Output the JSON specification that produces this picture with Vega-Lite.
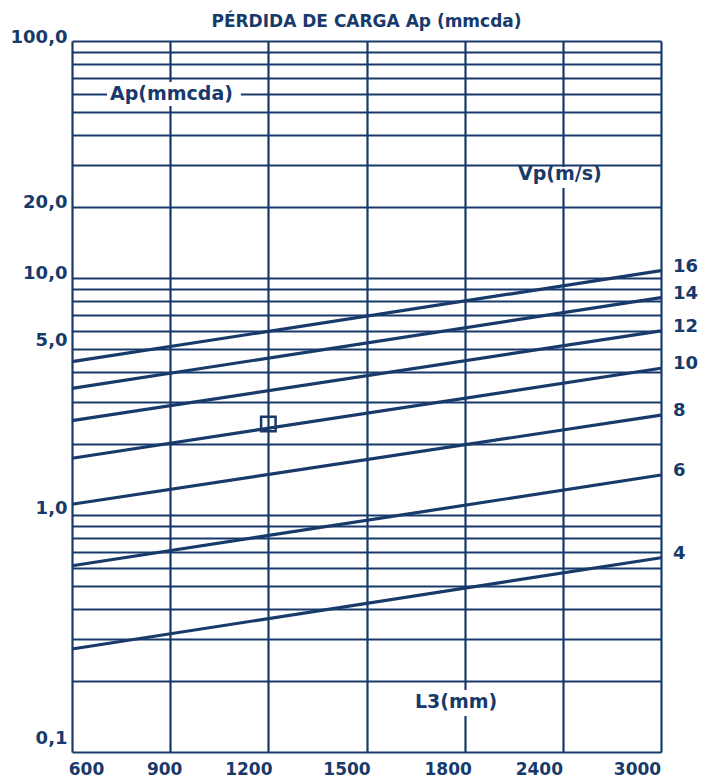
{
  "$schema": "https://vega.github.io/schema/vega-lite/v6.json",
  "width": 589,
  "height": 711,
  "autosize": {"type": "none"},
  "padding": {"left": 72, "top": 41, "right": 41, "bottom": 28},
  "background": "white",
  "config": {"view": {"stroke": null}, "font": "DejaVu Sans"},
  "title": {
    "text": "PÉRDIDA DE CARGA Ap (mmcda)",
    "anchor": "middle",
    "font": "DejaVu Sans",
    "fontSize": 17,
    "fontWeight": "bold",
    "color": "#183a6b",
    "offset": 0,
    "dy": 3
  },
  "datasets": {
    "lines": [
      {"vp": "16", "L3": 600, "ap": 4.435}, {"vp": "16", "L3": 3000, "ap": 10.74},
      {"vp": "14", "L3": 600, "ap": 3.424}, {"vp": "14", "L3": 3000, "ap": 8.26},
      {"vp": "12", "L3": 600, "ap": 2.5}, {"vp": "12", "L3": 3000, "ap": 5.98},
      {"vp": "10", "L3": 600, "ap": 1.735}, {"vp": "10", "L3": 3000, "ap": 4.16},
      {"vp": "8", "L3": 600, "ap": 1.11}, {"vp": "8", "L3": 3000, "ap": 2.64},
      {"vp": "6", "L3": 600, "ap": 0.611}, {"vp": "6", "L3": 3000, "ap": 1.475},
      {"vp": "4", "L3": 600, "ap": 0.272}, {"vp": "4", "L3": 3000, "ap": 0.66}
    ],
    "boxes": [
      {"L3": 707, "L3b": 1116, "ap": 53.2, "apb": 67.1},
      {"L3": 2108, "L3b": 2664, "ap": 24.0, "apb": 29.4},
      {"L3": 1639, "L3b": 2022, "ap": 0.142, "apb": 0.1827}
    ],
    "notes": [
      {"L3": 716, "ap": 60, "label": "Ap(mmcda)"},
      {"L3": 2126, "ap": 27.5, "label": "Vp(m/s)"},
      {"L3": 1648, "ap": 0.1626, "label": "L3(mm)"}
    ],
    "marker": [{"L3": 1200, "ap": 2.42}]
  },
  "encoding": {
    "x": {
      "field": "L3",
      "type": "quantitative",
      "scale": {
        "domain": [600, 900, 1200, 1500, 1800, 2400, 3000],
        "range": [0, 98.17, 196.33, 294.5, 392.67, 490.83, 589],
        "nice": false,
        "zero": false
      },
      "axis": {
        "title": null,
        "values": [600, 900, 1200, 1500, 1800, 2400, 3000],
        "format": "d",
        "domain": false,
        "ticks": false,
        "grid": true,
        "gridColor": "#183a6b",
        "gridWidth": 2.2,
        "gridOpacity": 1,
        "labelFont": "DejaVu Sans",
        "labelFontSize": 17,
        "labelFontWeight": "bold",
        "labelColor": "#183a6b",
        "labelPadding": 9,
        "labelBaseline": "top",
        "labelFlush": false,
        "labelOverlap": false,
        "labelBound": false,
        "labelAlign": "center",
        "labelOffset": {
          "condition": [
            {"test": "datum.value == 600", "value": 14},
            {"test": "datum.value == 900", "value": -6},
            {"test": "datum.value == 1800", "value": -17},
            {"test": "datum.value >= 2400", "value": -24}
          ],
          "value": -20
        }
      }
    },
    "y": {
      "field": "ap",
      "type": "quantitative",
      "scale": {"type": "log", "domain": [0.1, 100], "nice": false},
      "axis": {
        "title": null,
        "values": [0.1, 0.2, 0.3, 0.4, 0.5, 0.6, 0.7, 0.8, 0.9, 1, 2, 3, 4, 5, 6, 7, 8, 9, 10, 20, 30, 40, 50, 60, 70, 80, 90, 100],
        "labelExpr": "datum.value == 100 ? '100,0' : datum.value == 20 ? '20,0' : datum.value == 10 ? '10,0' : datum.value == 5 ? '5,0' : datum.value == 1 ? '1,0' : datum.value == 0.1 ? '0,1' : ''",
        "domain": false,
        "ticks": false,
        "grid": true,
        "gridColor": "#183a6b",
        "gridWidth": 2.2,
        "gridOpacity": 1,
        "labelFont": "DejaVu Sans",
        "labelFontSize": 18,
        "labelFontWeight": "bold",
        "labelColor": "#183a6b",
        "labelPadding": 5,
        "labelBaseline": "middle",
        "labelFlush": false,
        "labelOverlap": false,
        "labelBound": false,
        "labelOffset": {
          "condition": [
            {"test": "datum.value == 0.1", "value": -14},
            {"test": "datum.value == 1", "value": -7},
            {"test": "datum.value == 5", "value": -9},
            {"test": "datum.value == 10", "value": -5}
          ],
          "value": -4
        }
      }
    }
  },
  "layer": [
    {
      "data": {"name": "boxes"},
      "mark": {"type": "rect", "fill": "white", "stroke": null},
      "encoding": {
        "x2": {"field": "L3b"},
        "y2": {"field": "apb"}
      }
    },
    {
      "data": {"name": "lines"},
      "mark": {"type": "line", "color": "#183a6b", "strokeWidth": 3.2},
      "encoding": {
        "detail": {"field": "vp", "type": "nominal"}
      }
    },
    {
      "data": {"name": "lines"},
      "transform": [{"filter": "datum.L3 == 3000"}],
      "mark": {"type": "text", "align": "left", "baseline": "middle", "dx": 12, "dy": -4, "font": "DejaVu Sans", "fontSize": 18, "fontWeight": "bold", "color": "#183a6b"},
      "encoding": {
        "text": {"field": "vp", "type": "nominal"}
      }
    },
    {
      "data": {"name": "notes"},
      "mark": {"type": "text", "align": "left", "baseline": "middle", "font": "DejaVu Sans", "fontSize": 19, "fontWeight": "bold", "color": "#183a6b"},
      "encoding": {
        "text": {"field": "label", "type": "nominal"}
      }
    },
    {
      "data": {"name": "marker"},
      "mark": {"type": "point", "shape": "square", "filled": false, "size": 210, "strokeWidth": 2.5, "color": "#183a6b", "opacity": 1},
      "encoding": {}
    }
  ]
}
